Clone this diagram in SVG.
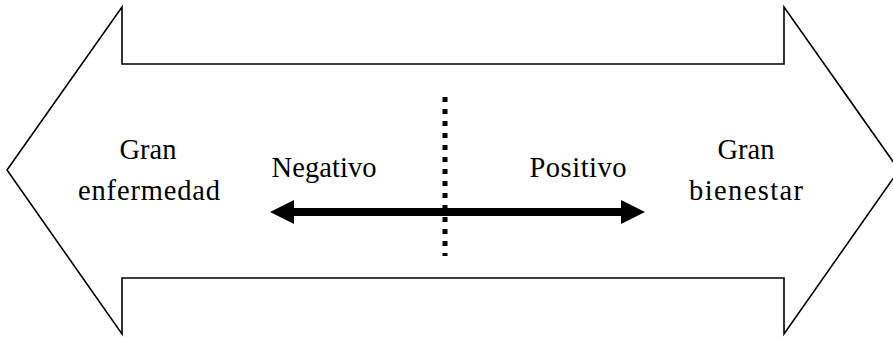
<svg xmlns="http://www.w3.org/2000/svg" width="893" height="337" viewBox="0 0 893 337">
  <defs>
    <style>
      .outline { fill: none; stroke: #000; stroke-width: 1.6; stroke-linejoin: miter; }
      .label { font-family: "Liberation Serif", "Times New Roman", serif; font-size: 28.5px; fill: #000; text-anchor: middle; }
      .axis { stroke: #000; stroke-width: 8; fill: none; }
      .divider { stroke: #000; stroke-width: 5; stroke-dasharray: 5 7; fill: none; }
      .head { fill: #000; }
    </style>
    <marker id="tip" viewBox="0 0 24 24" refX="2" refY="12" markerWidth="24" markerHeight="24" markerUnits="userSpaceOnUse" orient="auto-start-reverse">
      <path class="head" d="M0,0 L24,12 L0,24 Z"/>
    </marker>
  </defs>

  <rect width="893" height="337" fill="#fff"/>

  <!-- large double-headed frame arrow -->
  <g id="frame">
    <polygon class="outline" points="7,170 122,7 122,64 784,64 784,7 899,170 784,334 784,278 122,278 122,334"/>
  </g>

  <!-- end labels -->
  <g id="gran-enfermedad">
    <text class="label" x="148" y="159">Gran</text>
    <text class="label" x="149" y="200" textLength="142" lengthAdjust="spacing">enfermedad</text>
  </g>
  <g id="gran-bienestar">
    <text class="label" x="746" y="159">Gran</text>
    <text class="label" x="746" y="200" textLength="114" lengthAdjust="spacing">bienestar</text>
  </g>
  <g id="negativo">
    <text class="label" x="324" y="177" textLength="105" lengthAdjust="spacing">Negativo</text>
  </g>
  <g id="positivo">
    <text class="label" x="578" y="177" textLength="97" lengthAdjust="spacing">Positivo</text>
  </g>

  <!-- connectors: neutral divider and the negative/positive axis -->
  <g id="connectors">
    <line class="divider" x1="445" y1="97" x2="445" y2="256"/>
    <line class="axis" x1="292" y1="212" x2="623" y2="212" marker-start="url(#tip)" marker-end="url(#tip)"/>
  </g>
</svg>
